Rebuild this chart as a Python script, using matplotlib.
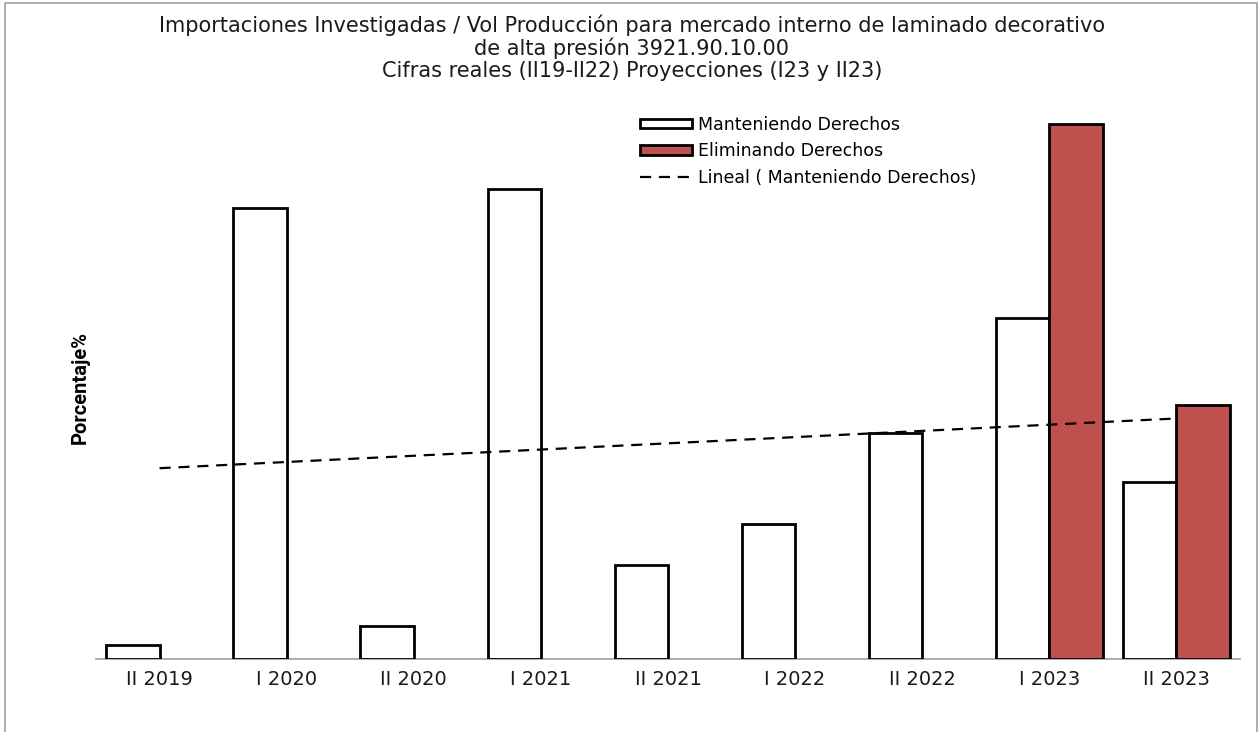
import matplotlib.pyplot as plt
import numpy as np
from matplotlib.lines import Line2D

# Datos (escala relativa)
periodos = ["II 2019", "I 2020", "II 2020", "I 2021", "II 2021",
            "I 2022", "II 2022", "I 2023", "II 2023"]
manteniendo = [1.4, 45.1, 3.3, 47.0, 9.4, 13.5, 22.6, 34.1, 17.7]
eliminando = [0, 0, 0, 0, 0, 0, 0, 53.5, 25.4]

titulo = ("Importaciones Investigadas / Vol Producción para mercado interno de laminado decorativo\n"
          "de alta presión 3921.90.10.00\n"
          "Cifras reales (II19-II22) Proyecciones (I23 y II23)")

rojo = "#C0504D"
fuente = "DejaVu Sans"

fig = plt.figure(figsize=(12.59, 7.32), dpi=100)
ax = fig.add_axes([96 / 1259, 1 - 659 / 732, (1240 - 96) / 1259, 560 / 732])

x = np.arange(len(periodos))
w = 0.42
b1 = ax.bar(x - w / 2, manteniendo, width=w, color="white", edgecolor="black",
            linewidth=2, label="Manteniendo Derechos", zorder=3)
elim_x = [xi + w / 2 for xi, v in zip(x, eliminando) if v > 0]
elim_v = [v for v in eliminando if v > 0]
b2 = ax.bar(elim_x, elim_v, width=w, color=rojo, edgecolor="black",
            linewidth=2, label="Eliminando Derechos", zorder=3)

# Línea de tendencia lineal de "Manteniendo"
m, b = np.polyfit(x, manteniendo, 1)
ln, = ax.plot(x, m * x + b, color="black", linestyle=(0, (5, 3.5)), linewidth=1.6,
              label="Lineal ( Manteniendo Derechos)", zorder=4)

ax.set_xlim(-0.5, len(periodos) - 0.5)
ax.set_ylim(0, 56)
ax.set_xticks(x)
ax.set_xticklabels(periodos, fontsize=14, family=fuente, color="#1a1a1a")
ax.tick_params(axis="x", length=0, pad=8)
ax.set_yticks([])
for s in ["left", "right", "top"]:
    ax.spines[s].set_visible(False)
ax.spines["bottom"].set_color("#a0a0a0")
ax.spines["bottom"].set_linewidth(1.2)
ax.spines["bottom"].set_zorder(2)

fig.text(80 / 1259, 1 - 388 / 732, "Porcentaje%", rotation=90, fontsize=14.5,
         fontweight="bold", family="Roboto", ha="center", va="center")

fig.text(632 / 1259, 1 - 14 / 732, titulo, ha="center", va="top", fontsize=15,
         family=fuente, linespacing=1.12, color="#1a1a1a")

ax.legend([b1, b2, ln], [b1.get_label(), b2.get_label(), ln.get_label()],
          loc="upper left", bbox_to_anchor=(624 / 1259, 1 - 100 / 732),
          bbox_transform=fig.transFigure, frameon=False, prop={"family": fuente, "size": 12.5},
          handlelength=3.0, handleheight=0.5, handletextpad=0.35, labelspacing=0.5)

# Marco gris del gráfico
fig.add_artist(Line2D([5 / 1259, 5 / 1259, 1257 / 1259, 1257 / 1259],
                      [0, 1 - 3 / 732, 1 - 3 / 732, 0], color="#a0a0a0",
                      linewidth=1.2, transform=fig.transFigure))

fig.savefig("out.png", dpi=100)
